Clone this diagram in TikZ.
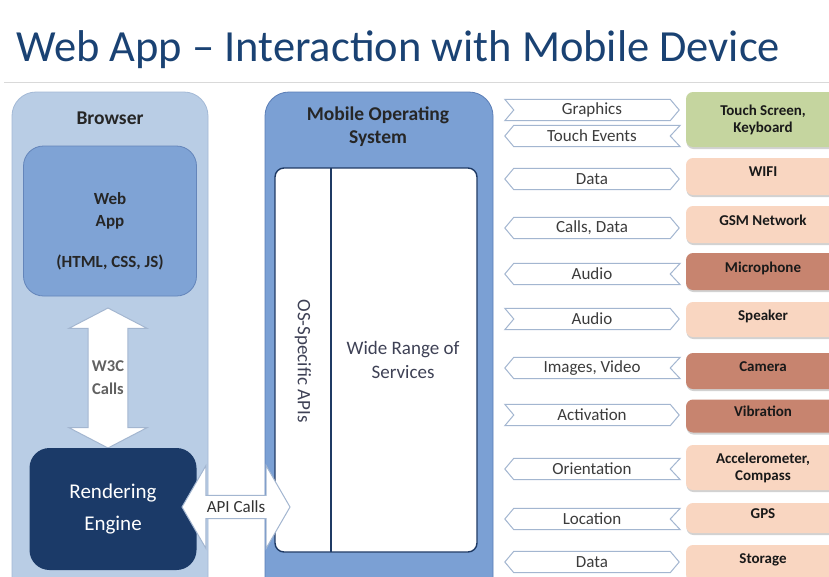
\documentclass[tikz,border=0pt]{standalone}
\usepackage{fontspec}
\setmainfont{Carlito}
\usetikzlibrary{shapes.arrows,shadows}

\definecolor{titleblue}{HTML}{1A4273}
\definecolor{rulegray}{HTML}{D9D9D9}
\definecolor{browserfill}{HTML}{B9CDE5}
\definecolor{browserline}{HTML}{A3B9D6}
\definecolor{osfill}{HTML}{7BA0D4}
\definecolor{osline}{HTML}{5A7DB6}
\definecolor{appfill}{HTML}{7FA3D5}
\definecolor{appline}{HTML}{6485BA}
\definecolor{enginefill}{HTML}{1B3A68}
\definecolor{innerline}{HTML}{1F3A64}
\definecolor{arrowline}{HTML}{A3B6D0}
\definecolor{textgray}{HTML}{3C3C3C}
\definecolor{slate}{HTML}{3E4155}
\definecolor{greenhw}{HTML}{C5D59F}
\definecolor{peachhw}{HTML}{F9D6C1}
\definecolor{rusthw}{HTML}{C7846F}

\tikzset{
  panel/.style={draw, line width=0.8pt, rounded corners=24pt},
  panelhead/.style={font=\bfseries\fontsize{19.5}{23}\selectfont, text=black!85, align=center},
  fatarrow/.style={shape=double arrow, fill=white, draw=arrowline, line width=1pt,
    inner sep=1pt, align=center, text=textgray},
  flowlabel/.style={minimum width=156pt, minimum height=21pt, inner sep=0pt,
    font=\fontsize{17}{19}\selectfont, text=textgray},
  flowline/.style={draw=arrowline, fill=white, line width=1pt, line join=miter},
  hwbox/.style={rounded corners=7pt, minimum width=154pt, inner sep=2pt, align=center,
    font=\bfseries\fontsize{15}{17}\selectfont, text=black!90,
    drop shadow={shadow xshift=0.5pt, shadow yshift=-2pt, opacity=0.35}},
  hwone/.style={hwbox, text depth=9pt},
}

% banner outlines around a label node: tip/notch depth 9pt
\newcommand\flowleft[1]{%
  \path[flowline] (#1.north west) -- ([xshift=10pt]#1.north east) -- (#1.east)
    -- ([xshift=10pt]#1.south east) -- (#1.south west) -- ([xshift=-9pt]#1.west) -- cycle;}
\newcommand\flowright[1]{%
  \path[flowline] ([xshift=-9pt]#1.north west) -- (#1.north east) -- ([xshift=9pt]#1.east)
    -- (#1.south east) -- ([xshift=-9pt]#1.south west) -- (#1.west) -- cycle;}
\newcommand\flowboth[1]{%
  \path[flowline] (#1.north west) -- (#1.north east) -- ([xshift=9pt]#1.east)
    -- (#1.south east) -- (#1.south west) -- ([xshift=-9pt]#1.west) -- cycle;}

\begin{document}
\begin{tikzpicture}[x=1pt,y=-1pt]
\useasboundingbox (0,0) rectangle (829,576);
\clip (0,0) rectangle (829,576);
\fill[white] (0,0) rectangle (829,576);

% title and rule
\node[anchor=base west, inner sep=0pt, text=titleblue, font=\fontsize{44.5}{48}\selectfont]
  (title) at (16,61) {Web App -- Interaction with Mobile Device};
\draw[rulegray, line width=1pt] (4,82) -- (829,82);

% browser column
\node[panel, fill=browserfill, draw=browserline, minimum width=196pt, minimum height=510pt]
  (browser) at (110,347) {};
\node[panelhead] (browsertitle) at (110,118) {Browser};

\node[fatarrow, shape border rotate=90, minimum height=140pt, minimum width=78pt,
  double arrow head extend=17pt, double arrow tip angle=125,
  font=\bfseries\fontsize{16.5}{23}\selectfont, text=black!62]
  (w3c) at (108,378) {W3C\\Calls};

\node[draw=appline, fill=appfill, line width=0.8pt, rounded corners=20pt,
  minimum width=173pt, minimum height=150pt] (webapp) at (110,221) {};
\node[align=center, font=\bfseries\fontsize{17}{22}\selectfont, text=black!85]
  (webapptext) at (110,231) {Web\\App\\[19pt](HTML, CSS, JS)};

\node[fill=enginefill, rounded corners=20pt, minimum width=167pt, minimum height=122pt,
  align=center, text=white, font=\fontsize{21}{32}\selectfont]
  (engine) at (113,509) {Rendering\\Engine};

% mobile operating system column
\node[panel, fill=osfill, draw=osline, minimum width=228pt, minimum height=510pt]
  (os) at (379,347) {};
\node[panelhead] (ostitle) at (378,127) {Mobile Operating\\System};

\node[draw=innerline, fill=white, line width=1.4pt, rounded corners=9pt,
  minimum width=202pt, minimum height=384pt] (inner) at (376,360) {};
\draw[innerline, line width=1.4pt] (331,168) -- (331,552);
\node[rotate=-90, text=slate, font=\fontsize{19}{22}\selectfont] (osapi) at (303,361) {OS-Specific APIs};
\node[align=center, text=slate, font=\fontsize{19}{24}\selectfont] (services) at (403,360)
  {Wide Range of\\Services};

\node[fatarrow, minimum height=108pt, minimum width=83pt, double arrow head extend=19pt,
  double arrow tip angle=120, font=\fontsize{17}{19}\selectfont, text=black!80]
  (apicalls) at (236,507) {API Calls};

% data flows between the OS and the hardware
\node[flowlabel] (f1) at (592,110) {}; \flowright{f1}
\node[flowlabel] at (f1) {Graphics};
\node[flowlabel] (f2) at (592,136) {}; \flowleft{f2}
\node[flowlabel] at (f2) {Touch Events};
\node[flowlabel] (f3) at (592,179) {}; \flowboth{f3}
\node[flowlabel] at (f3) {Data};
\node[flowlabel] (f4) at (592,228) {}; \flowboth{f4}
\node[flowlabel] at (f4) {Calls, Data};
\node[flowlabel] (f5) at (592,274) {}; \flowleft{f5}
\node[flowlabel] at (f5) {Audio};
\node[flowlabel] (f6) at (592,319) {}; \flowright{f6}
\node[flowlabel] at (f6) {Audio};
\node[flowlabel] (f7) at (592,368) {}; \flowleft{f7}
\node[flowlabel] at (f7) {Images, Video};
\node[flowlabel] (f8) at (592,415) {}; \flowright{f8}
\node[flowlabel] at (f8) {Activation};
\node[flowlabel] (f9) at (592,469) {}; \flowleft{f9}
\node[flowlabel] at (f9) {Orientation};
\node[flowlabel] (f10) at (592,519) {}; \flowleft{f10}
\node[flowlabel] at (f10) {Location};
\node[flowlabel] (f11) at (592,562) {}; \flowboth{f11}
\node[flowlabel] at (f11) {Data};

% hardware
\node[hwbox, fill=greenhw, minimum height=55pt] (touch) at (763,119.5) {Touch Screen,\\Keyboard};
\node[hwone, fill=peachhw, minimum height=37pt] (wifi) at (763,176.5) {WIFI};
\node[hwone, fill=peachhw, minimum height=37pt] (gsm) at (763,224.5) {GSM Network};
\node[hwone, fill=rusthw, minimum height=37pt] (mic) at (763,271.5) {Microphone};
\node[hwone, fill=peachhw, minimum height=35pt] (speaker) at (763,319.5) {Speaker};
\node[hwone, fill=rusthw, minimum height=36pt] (camera) at (763,371) {Camera};
\node[hwone, fill=rusthw, minimum height=33pt] (vibration) at (763,416) {Vibration};
\node[hwbox, fill=peachhw, minimum height=45pt] (accel) at (763,467.5) {Accelerometer,\\Compass};
\node[hwone, fill=peachhw, minimum height=30pt] (gps) at (763,518) {GPS};
\node[hwone, fill=peachhw, minimum height=36pt] (storage) at (763,563) {Storage};
\end{tikzpicture}
\end{document}
